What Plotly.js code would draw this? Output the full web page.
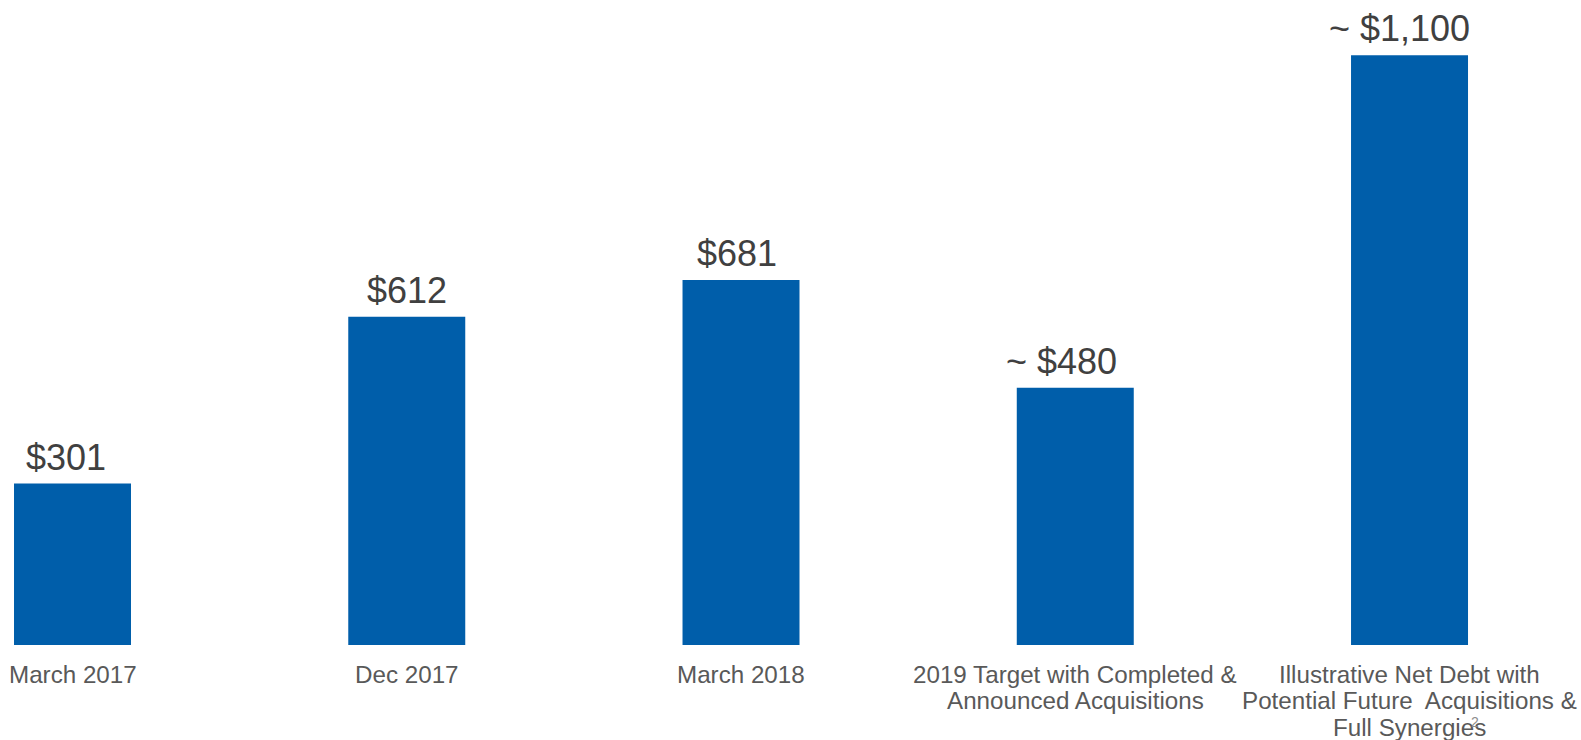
<!DOCTYPE html>
<html>
<head>
<meta charset="utf-8">
<script src="https://cdn.plot.ly/plotly-3.0.1.min.js"></script>
<style>
  html, body { margin: 0; padding: 0; background: #ffffff; }
  #chart { width: 1581px; height: 740px; }
</style>
</head>
<body>
<div id="chart"></div>
<script>
// Data
const categories = [
  "March 2017",
  "Dec 2017",
  "March 2018",
  "2019 Target with Completed &<br>Announced Acquisitions",
  "Illustrative Net Debt with<br>Potential Future  Acquisitions &<br>Full Synergies"
];
const values = [301, 612, 681, 480, 1100];
const valueLabels = ["$301", "$612", "$681", "~ $480", "~ $1,100"];
const pageNumber = "2";

// Styling: horizontal nudges of the value labels (px), as in the original slide
const labelNudge = [-7, 0, -4, -14, -10];

const catIds = categories.map((c, i) => "c" + i);

const trace = {
  type: "bar",
  x: catIds,
  y: values,
  marker: { color: "#005EAA" },
  hoverinfo: "skip",
  cliponaxis: false
};

const annotations = [];
values.forEach((v, i) => {
  annotations.push({
    x: catIds[i], y: v, xref: "x", yref: "y",
    text: valueLabels[i], showarrow: false,
    xanchor: "center", yanchor: "bottom", yshift: 4, xshift: labelNudge[i],
    font: { family: "Liberation Sans, Arial, sans-serif", size: 36, color: "#404040" }
  });
});
categories.forEach((c, i) => {
  c.split("<br>").forEach((line, j) => {
    annotations.push({
      x: catIds[i], y: 0, xref: "x", yref: "y",
      text: line, showarrow: false,
      xanchor: "center", yanchor: "top", yshift: -13.5 - j * 26.7,
      font: { family: "Liberation Sans, Arial, sans-serif", size: 24.2, color: "#595959" }
    });
  });
});
annotations.push({
  x: 1475 / 1581, y: -0.119, xref: "paper", yref: "paper",
  text: pageNumber, showarrow: false, xanchor: "center", yanchor: "middle",
  font: { family: "Liberation Sans, Arial, sans-serif", size: 14, color: "#8c8c8c" }
});

const layout = {
  width: 1581, height: 740,
  margin: { l: 0, r: 0, t: 0, b: 95 },
  paper_bgcolor: "#ffffff", plot_bgcolor: "#ffffff",
  showlegend: false,
  bargap: 0.65,
  xaxis: {
    type: "category",
    range: [-0.2169, 4.513],
    showticklabels: false, showgrid: false, zeroline: false, showline: false, ticks: ""
  },
  yaxis: {
    range: [0, 1203],
    visible: false, showgrid: false, zeroline: false
  },
  annotations: annotations
};

Plotly.newPlot("chart", [trace], layout, { displayModeBar: false, staticPlot: true });
</script>
</body>
</html>
